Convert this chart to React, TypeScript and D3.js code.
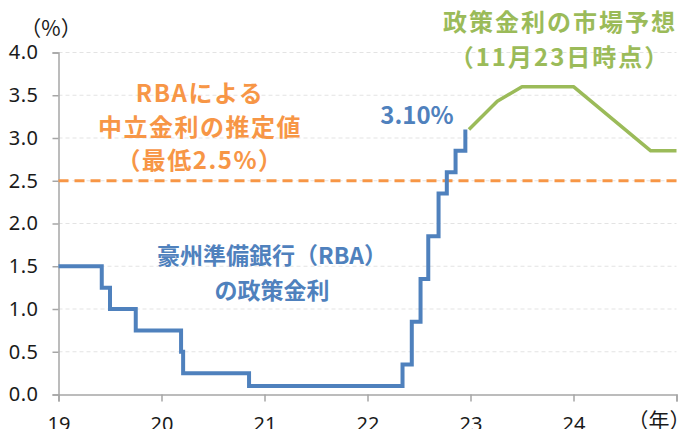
import React, { useEffect, useRef } from "react";
import * as d3 from "d3";

// RBA cash rate (step changes), time as fractional year
const rbaTimes = [2019.0, 2019.42, 2019.5, 2019.75, 2020.19, 2020.21, 2020.85, 2022.34, 2022.43, 2022.515, 2022.59, 2022.69, 2022.77, 2022.855, 2022.95];
const rbaRates = [1.5, 1.25, 1.0, 0.75, 0.5, 0.25, 0.1, 0.35, 0.85, 1.35, 1.85, 2.35, 2.6, 2.85, 3.1];

// market expectation (as of Nov 23)
const mktTimes = [2022.985, 2023.26, 2023.5, 2024.0, 2024.75, 2025.0];
const mktRates = [3.1, 3.43, 3.6, 3.6, 2.85, 2.85];

const neutralRate = 2.5;
const yTicks = [0, 0.5, 1, 1.5, 2, 2.5, 3, 3.5, 4];
const xTicks = [2019, 2020, 2021, 2022, 2023, 2024, 2025];
const xTickLabels = ["19", "20", "21", "22", "23", "24", ""];

const BLUE = "#4f81bd";
const ORANGE = "#f79646";
const GREEN = "#9bbb59";
const JP = "'Noto Sans CJK JP', 'Noto Sans', sans-serif";

const W = 678;
const H = 429;

export default function App() {
  const svgRef = useRef<SVGSVGElement>(null);

  const x = d3.scaleLinear().domain([2019, 2025]).range([58.5, 676.5]);
  const y = d3.scaleLinear().domain([0, 4]).range([394.5, 52.5]);

  useEffect(() => {
    const svg = d3.select(svgRef.current);

    const yAxis = d3
      .axisLeft(y)
      .tickValues(yTicks)
      .tickSize(6)
      .tickPadding(14)
      .tickFormat((d) => d3.format(".1f")(d as number));
    const gy = svg.select<SVGGElement>(".y-axis").attr("transform", `translate(${x(2019)},0)`).call(yAxis);
    gy.select(".domain").attr("stroke", "#a6a6a6").attr("stroke-width", 1.5);
    gy.selectAll(".tick line").attr("stroke", "#a6a6a6").attr("stroke-width", 1.5);
    gy.selectAll(".tick text")
      .attr("fill", "#1a1a1a")
      .style("font-family", "'Noto Sans', sans-serif")
      .style("font-size", "20px")
      .style("letter-spacing", "0.5px");

    const xAxis = d3
      .axisBottom(x)
      .tickValues(xTicks)
      .tickSize(7)
      .tickPadding(10)
      .tickFormat((d, i) => xTickLabels[i]);
    const gx = svg.select<SVGGElement>(".x-axis").attr("transform", `translate(0,${y(0)})`).call(xAxis);
    gx.select(".domain").attr("stroke", "#a6a6a6").attr("stroke-width", 1.5);
    gx.selectAll(".tick line").attr("stroke", "#a6a6a6").attr("stroke-width", 1.5);
    gx.selectAll(".tick text")
      .attr("fill", "#1a1a1a")
      .attr("dy", "0.95em")
      .style("font-family", "'Noto Sans', sans-serif")
      .style("font-size", "20px");
  }, []);

  const rbaLine = d3
    .line<number>()
    .x((d, i) => x(rbaTimes[i]))
    .y((d) => y(d))
    .curve(d3.curveStepAfter);

  const mktLine = d3
    .line<number>()
    .x((d, i) => x(mktTimes[i]))
    .y((d) => y(d));

  return (
    <svg
      ref={svgRef}
      width={W}
      height={H}
      style={{ position: "absolute", left: 0, top: 0, background: "#fff" }}
    >
      {yTicks.slice(1).map((t) => (
        <line
          key={t}
          x1={x(2019)}
          x2={x(2025)}
          y1={y(t)}
          y2={y(t)}
          stroke="#e3e3e3"
          strokeWidth={1}
          strokeDasharray="4,3"
        />
      ))}
      <g className="y-axis" />
      <g className="x-axis" />

      <line
        x1={x(2019)}
        x2={x(2025)}
        y1={y(neutralRate)}
        y2={y(neutralRate)}
        stroke={ORANGE}
        strokeWidth={3}
        strokeDasharray="10,6"
      />
      <path d={rbaLine(rbaRates) ?? ""} fill="none" stroke={BLUE} strokeWidth={4} />
      <path d={mktLine(mktRates) ?? ""} fill="none" stroke={GREEN} strokeWidth={3.5} strokeLinejoin="round" />

      <text x={51} y={36} textAnchor="middle" fontFamily={JP} fontSize={21} fill="#1a1a1a">
        （%）
      </text>
      <text x={659} y={428} textAnchor="middle" fontFamily={JP} fontSize={21} fill="#1a1a1a">
        （年）
      </text>

      <g fontFamily={JP} fontWeight="bold" fontSize={24} fill={ORANGE} textAnchor="middle" letterSpacing={1.5}>
        <text x={200} y={102}>RBAによる</text>
        <text x={200} y={136}>中立金利の推定値</text>
        <text x={200} y={169}>（最低2.5%）</text>
      </g>

      <g fontFamily={JP} fontWeight="bold" fontSize={24} fill={GREEN} textAnchor="middle" letterSpacing={2}>
        <text x={560} y={31}>政策金利の市場予想</text>
        <text x={560} y={66}>（11月23日時点）</text>
      </g>

      <text x={417} y={124} textAnchor="middle" fontFamily={JP} fontWeight="bold" fontSize={24} fill={BLUE}>
        3.10%
      </text>

      <g fontFamily={JP} fontWeight="bold" fontSize={23} fill={BLUE} textAnchor="middle">
        <text x={272} y={264}>豪州準備銀行（RBA）</text>
        <text x={272} y={299}>の政策金利</text>
      </g>
    </svg>
  );
}
